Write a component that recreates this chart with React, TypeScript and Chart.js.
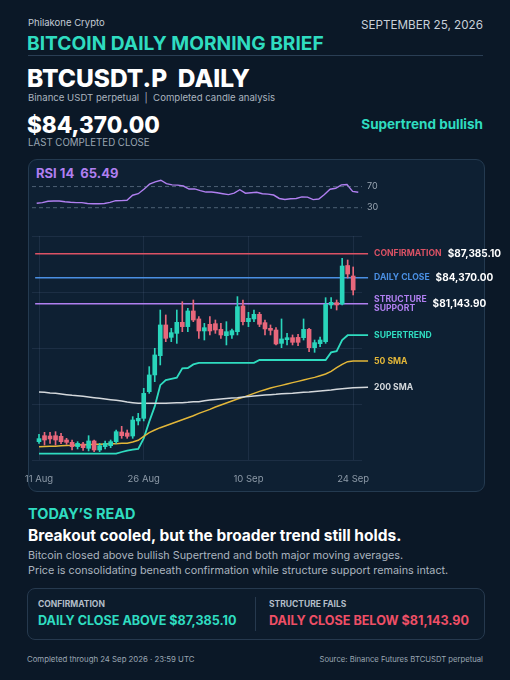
import React, { useEffect, useRef } from "react";
import { Chart, registerables } from "chart.js";
Chart.register(...registerables);

const FONT = "Inter, 'Noto Sans', 'DejaVu Sans', sans-serif";
Chart.defaults.font.family = FONT;

// ---------- DATA ----------
const tickIdx = [0, 19, 38, 57];
const tickText = ["11 Aug", "26 Aug", "10 Sep", "24 Sep"];

const opens = [63890, 64640, 64600, 64640, 64560, 64100, 63810, 63270, 63600, 63060, 63980, 62850, 63270, 63390, 63890, 65100, 64980, 64600, 66480, 66810, 70140, 72230, 74640, 78480, 76930, 77430, 78810, 78270, 80230, 79230, 77730, 78560, 78640, 77930, 77140, 77230, 77640, 80850, 78890, 79230, 79810, 78770, 78060, 77850, 76180, 76640, 76890, 76930, 76890, 77930, 75640, 76140, 76390, 80980, 81270, 81100, 85910, 84600];
const highs = [64810, 65060, 65060, 65140, 64930, 64310, 64100, 63890, 63810, 64640, 64100, 63680, 63980, 64100, 65350, 65810, 65350, 67020, 67430, 70560, 73270, 75560, 80350, 79730, 78060, 80350, 81390, 80560, 81600, 79520, 78680, 79520, 79100, 78680, 78890, 77980, 82020, 81600, 80060, 80350, 80060, 79100, 78480, 78140, 79230, 77430, 77230, 77310, 79230, 78060, 76600, 76980, 81890, 81890, 81600, 86810, 86600, 85730];
const lows = [63680, 63470, 63680, 63470, 63640, 63560, 62850, 62980, 62810, 62730, 62640, 62640, 62980, 63140, 63680, 64310, 64310, 64310, 65980, 66480, 69930, 71390, 73480, 76390, 76390, 76180, 77640, 77640, 78890, 76810, 76600, 77230, 77430, 76810, 75980, 76810, 77230, 78480, 78270, 78890, 78270, 77230, 77230, 75980, 75640, 75980, 75980, 75890, 76600, 75140, 75060, 75770, 76180, 80560, 80350, 80980, 84350, 82230];
const closes = [64270, 64100, 64230, 64100, 63890, 63810, 63270, 63680, 63140, 63980, 62850, 63390, 63680, 63890, 65140, 64640, 64560, 66600, 66810, 69930, 72230, 74730, 78480, 76810, 77520, 78810, 78270, 80230, 79100, 77730, 78140, 77730, 77850, 77230, 77640, 77770, 80770, 78890, 79310, 79810, 78560, 77980, 77810, 76100, 76730, 76890, 76310, 76310, 77930, 75640, 76270, 76600, 81060, 81310, 80980, 85850, 84850, 82850];

const supertrend = [62400, 62400, 62400, 62400, 62400, 62400, 62400, 62400, 62400, 62400, 62400, 62400, 62400, 62400, 62400, 62600, 62770, 62900, 63000, 64300, 66400, 68300, 70950, 71600, 71750, 71900, 73050, 73100, 73550, 73750, 73750, 73750, 73750, 73750, 73750, 73750, 73750, 73750, 73750, 73750, 74100, 74100, 74100, 74100, 74100, 74100, 74100, 74100, 74100, 74100, 74100, 74100, 74100, 75050, 75200, 76600, 77200, 77200];
const sma50 = [63270, 63290, 63310, 63330, 63370, 63410, 63430, 63480, 63500, 63520, 63560, 63580, 63600, 63620, 63640, 63680, 63700, 63850, 64060, 64560, 65020, 65350, 65640, 65890, 66140, 66390, 66640, 66890, 67140, 67430, 67680, 67930, 68230, 68480, 68730, 68980, 69230, 69430, 69680, 69930, 70180, 70390, 70600, 70770, 70930, 71100, 71270, 71430, 71600, 71770, 71930, 72140, 72350, 72680, 73140, 73560, 73890, 73980];
const sma200 = [70100, 70060, 69980, 69930, 69850, 69770, 69680, 69640, 69560, 69480, 69390, 69310, 69230, 69140, 69060, 68980, 68850, 68770, 68680, 68680, 68680, 68680, 68680, 68700, 68730, 68750, 68770, 68810, 68870, 68890, 69020, 69100, 69160, 69230, 69290, 69350, 69390, 69480, 69540, 69600, 69660, 69730, 69770, 69810, 69870, 69910, 69950, 70020, 70060, 70100, 70160, 70230, 70290, 70350, 70430, 70520, 70580, 70640];
const lineEndValues = { supertrend: 77200, sma50: 73980, sma200: 70680 };

const rsi = [38.4, 39.6, 42.2, 42.8, 42.8, 41.2, 40.3, 39.7, 39.7, 37.9, 37.6, 37.6, 38.0, 40.0, 43.3, 43.5, 44.1, 53.6, 56.5, 65.0, 74.5, 79.0, 82.0, 75.5, 73.3, 72.7, 71.0, 65.3, 65.5, 62.3, 59.6, 59.7, 58.4, 56.5, 54.8, 57.5, 64.0, 57.5, 58.3, 59.3, 56.5, 55.8, 54.0, 47.5, 45.5, 47.0, 47.5, 50.5, 50.0, 45.3, 46.5, 55.0, 65.0, 66.8, 73.3, 73.8, 61.0, 59.3];
const rsiLevels = [70, 30];

const confirmation = 87385.1;
const dailyClose = 84370.0;
const structureSupport = 81143.9;

// ---------- STYLE ----------
const BG = "#0b1827";
const TEAL = "#2fdcc0";
const UP = "#29d5bb";
const DOWN = "#e8677b";
const RED_LINE = "#dc5265";
const BLUE_LINE = "#4a8fe3";
const PURPLE = "#b07ff0";
const YELLOW = "#e3b739";
const GRAY_LINE = "#d4d8dc";
const GRID = "rgba(120,150,185,0.13)";

const X_MIN = -1.27;
const X_MAX = 58.6;
const LINE_START = -0.7;
const LINE_END = 59.7;

const fmt = (v: number) =>
  "$" + v.toLocaleString("en-US", { minimumFractionDigits: 2, maximumFractionDigits: 2 });

function MainChart() {
  const ref = useRef<HTMLCanvasElement>(null);
  useEffect(() => {
    const idx = opens.map((_, i) => i);
    const colors = idx.map((i) => (closes[i] >= opens[i] ? UP : DOWN));
    const bodies = idx.map((i) => ({ x: i, y: [opens[i], closes[i]] }));
    const wicks = idx.map((i) => ({ x: i, y: [lows[i], highs[i]] }));
    const ext = (arr: number[], endV: number) => [
      ...arr.map((v, i) => ({ x: i, y: v })),
      { x: LINE_END, y: endV },
    ];
    const hline = (v: number) => [
      { x: LINE_START, y: v },
      { x: LINE_END, y: v },
    ];
    const lineDs = (data: any, color: string, width = 1.5) => ({
      type: "line" as const,
      data,
      borderColor: color,
      borderWidth: width,
      pointRadius: 0,
      tension: 0,
      clip: 10,
      order: 3,
    });

    const labelsPlugin = {
      id: "rightLabels",
      afterDatasetsDraw(chart: any) {
        const { ctx } = chart;
        const ys = chart.scales.y;
        const lx = chart.scales.x.getPixelForValue(LINE_END) + 6;
        ctx.save();
        ctx.textBaseline = "middle";
        ctx.textAlign = "left";
        const lab = (t: string, y: number, c: string) => {
          ctx.font = `700 8.6px ${FONT}`;
          ctx.fillStyle = c;
          ctx.fillText(t, lx, y);
          return ctx.measureText(t).width;
        };
        const val = (t: string, x: number, y: number) => {
          ctx.font = `700 10px ${FONT}`;
          ctx.fillStyle = "#ffffff";
          ctx.fillText(t, x, y);
        };
        let y = ys.getPixelForValue(confirmation);
        let w = lab("CONFIRMATION", y, RED_LINE);
        val(fmt(confirmation), lx + w + 6, y);
        y = ys.getPixelForValue(dailyClose);
        w = lab("DAILY CLOSE", y, BLUE_LINE);
        val(fmt(dailyClose), lx + w + 6, y);
        y = ys.getPixelForValue(structureSupport);
        const w1 = lab("STRUCTURE", y - 4.6, PURPLE);
        lab("SUPPORT", y + 4.6, PURPLE);
        val(fmt(structureSupport), lx + w1 + 6, y);
        lab("SUPERTREND", ys.getPixelForValue(lineEndValues.supertrend), TEAL);
        lab("50 SMA", ys.getPixelForValue(lineEndValues.sma50), YELLOW);
        lab("200 SMA", ys.getPixelForValue(lineEndValues.sma200), GRAY_LINE);
        ctx.restore();
      },
    };

    const chart = new Chart(ref.current!, {
      type: "bar",
      data: {
        datasets: [
          lineDs(hline(confirmation), RED_LINE),
          lineDs(hline(dailyClose), BLUE_LINE),
          lineDs(hline(structureSupport), PURPLE),
          lineDs(ext(sma200, lineEndValues.sma200), GRAY_LINE),
          lineDs(ext(sma50, lineEndValues.sma50), YELLOW),
          lineDs(ext(supertrend, lineEndValues.supertrend), TEAL, 1.8),
          {
            type: "bar",
            data: wicks as any,
            backgroundColor: colors,
            barThickness: 1,
            grouped: false,
            borderWidth: 0,
            order: 2,
          },
          {
            type: "bar",
            data: bodies as any,
            backgroundColor: colors,
            barThickness: 4,
            grouped: false,
            borderWidth: 0,
            order: 1,
          },
        ] as any,
      },
      options: {
        animation: false,
        responsive: false,
        maintainAspectRatio: false,
        layout: { padding: { left: 32, right: 148, top: 14, bottom: 5 } },
        plugins: { legend: { display: false }, tooltip: { enabled: false } },
        scales: {
          x: {
            type: "linear",
            min: X_MIN,
            max: X_MAX,
            offset: false,
            afterBuildTicks: (s: any) => {
              s.ticks = tickIdx.map((v) => ({ value: v }));
            },
            afterFit: (s: any) => {
              s.height = 30;
            },
            ticks: {
              color: "#8d9aa8",
              font: { size: 9.5 },
              padding: 13,
              maxRotation: 0,
              autoSkip: false,
              callback: (_v: any, i: number) => tickText[i],
            },
            grid: { color: GRID, drawTicks: false, offset: false },
            border: { display: false },
          },
          y: {
            type: "linear",
            min: 61600,
            max: 89600,
            ticks: { stepSize: 7000, display: false },
            grid: { color: GRID, drawTicks: false },
            border: { display: false },
            afterFit: (s: any) => {
              s.width = 0;
            },
          },
        },
      } as any,
      plugins: [labelsPlugin],
    });
    return () => chart.destroy();
  }, []);
  return (
    <canvas
      ref={ref}
      width={510}
      height={273}
      style={{ position: "absolute", left: 0, top: 222, width: 510, height: 273 }}
    />
  );
}

function RsiChart() {
  const ref = useRef<HTMLCanvasElement>(null);
  useEffect(() => {
    const R_MIN = -0.833;
    const R_MAX = 57.66;
    const levelsPlugin = {
      id: "rsiLevels",
      afterDatasetsDraw(chart: any) {
        const { ctx, chartArea } = chart;
        ctx.save();
        ctx.font = `400 9px ${FONT}`;
        ctx.fillStyle = "#9aa6b3";
        ctx.textBaseline = "middle";
        rsiLevels.forEach((l) => {
          ctx.fillText(String(l), chartArea.right + 5, chart.scales.y.getPixelForValue(l));
        });
        ctx.restore();
      },
    };
    const chart = new Chart(ref.current!, {
      type: "line",
      data: {
        datasets: [
          ...rsiLevels.map((l) => ({
            data: [
              { x: R_MIN, y: l },
              { x: R_MAX, y: l },
            ],
            borderColor: "rgba(130,150,170,0.55)",
            borderWidth: 1,
            borderDash: [4, 3],
            pointRadius: 0,
          })),
          {
            data: rsi.map((v, i) => ({ x: i, y: v })),
            borderColor: PURPLE,
            borderWidth: 1.4,
            pointRadius: 0,
            tension: 0,
          },
        ],
      },
      options: {
        animation: false,
        responsive: false,
        maintainAspectRatio: false,
        layout: { padding: { left: 32, right: 148, top: 6, bottom: 7 } },
        plugins: { legend: { display: false }, tooltip: { enabled: false } },
        scales: {
          x: { type: "linear", display: false, min: R_MIN, max: R_MAX },
          y: { display: false, min: 20, max: 90 },
        },
      } as any,
      plugins: [levelsPlugin],
    });
    return () => chart.destroy();
  }, []);
  return (
    <canvas
      ref={ref}
      width={510}
      height={50}
      style={{ position: "absolute", left: 0, top: 170, width: 510, height: 50 }}
    />
  );
}

function T(props: {
  x?: number;
  r?: number;
  y: number;
  size: number;
  color: string;
  weight?: number;
  children: React.ReactNode;
  ls?: number;
}) {
  const { x, r, y, size, color, weight = 400, children, ls = 0 } = props;
  return (
    <div
      style={{
        position: "absolute",
        left: x,
        right: r,
        top: y,
        transform: "translateY(-50%)",
        fontSize: size,
        lineHeight: 1.2,
        color,
        fontWeight: weight,
        whiteSpace: "pre",
        letterSpacing: ls,
      }}
    >
      {children}
    </div>
  );
}

export default function App() {
  return (
    <div
      style={{
        position: "fixed",
        left: 0,
        top: 0,
        width: 510,
        height: 680,
        background: BG,
        fontFamily: FONT,
        overflow: "hidden",
      }}
    >
      <T x={28} y={22.5} size={9.5} color="#c3ccd6">Philakone Crypto</T>
      <T r={27} y={25} size={11.7} color="#c8d0d9">SEPTEMBER 25, 2026</T>
      <T x={27} y={43.5} size={19.2} color={TEAL} weight={700}>BITCOIN DAILY MORNING BRIEF</T>
      <div style={{ position: "absolute", left: 28, top: 54.5, width: 455, height: 1, background: "#2a3e54" }} />
      <T x={27} y={78.5} size={24.5} color="#ffffff" weight={800}>BTCUSDT.P  DAILY</T>
      <T x={28} y={97.5} size={9.6} color="#aab4bf">Binance USDT perpetual  |  Completed candle analysis</T>
      <T x={27} y={123.5} size={22.5} color="#ffffff" weight={800}>$84,370.00</T>
      <T x={28} y={142.5} size={9.7} color="#9aa6b2">LAST COMPLETED CLOSE</T>
      <T r={27} y={124} size={13.5} color={TEAL} weight={700}>Supertrend bullish</T>

      <div
        style={{
          position: "absolute",
          left: 28,
          top: 159,
          width: 455,
          height: 331,
          border: "1px solid #243a50",
          borderRadius: 9,
          background: "#0e2033",
        }}
      />
      <T x={36} y={174} size={13} color={PURPLE} weight={700}>RSI 14  65.49</T>
      <RsiChart />
      <MainChart />

      <T x={28} y={514} size={14.5} color={TEAL} weight={700}>TODAY’S READ</T>
      <T x={28} y={536} size={15.5} color="#ffffff" weight={700}>Breakout cooled, but the broader trend still holds.</T>
      <T x={28} y={556} size={10.8} color="#aab4bf">Bitcoin closed above bullish Supertrend and both major moving averages.</T>
      <T x={28} y={571} size={10.8} color="#aab4bf">Price is consolidating beneath confirmation while structure support remains intact.</T>

      <div
        style={{
          position: "absolute",
          left: 27,
          top: 588,
          width: 456,
          height: 50,
          border: "1px solid #26394e",
          borderRadius: 8,
          background: "#0c1b2b",
        }}
      />
      <div style={{ position: "absolute", left: 255, top: 597, width: 1, height: 34, background: "#26394e" }} />
      <T x={38} y={604} size={8.5} color="#b3bdc8" weight={700}>CONFIRMATION</T>
      <T x={38} y={621} size={12.6} color={TEAL} weight={700}>DAILY CLOSE ABOVE $87,385.10</T>
      <T x={269} y={604} size={8.5} color="#b3bdc8" weight={700}>STRUCTURE FAILS</T>
      <T x={269} y={621} size={12.6} color="#ee4f66" weight={700}>DAILY CLOSE BELOW $81,143.90</T>

      <T x={27} y={660} size={7.8} color="#9aa6b2">Completed through 24 Sep 2026 · 23:59 UTC</T>
      <T r={27} y={660} size={7.7} color="#9aa6b2">Source: Binance Futures BTCUSDT perpetual</T>
    </div>
  );
}
